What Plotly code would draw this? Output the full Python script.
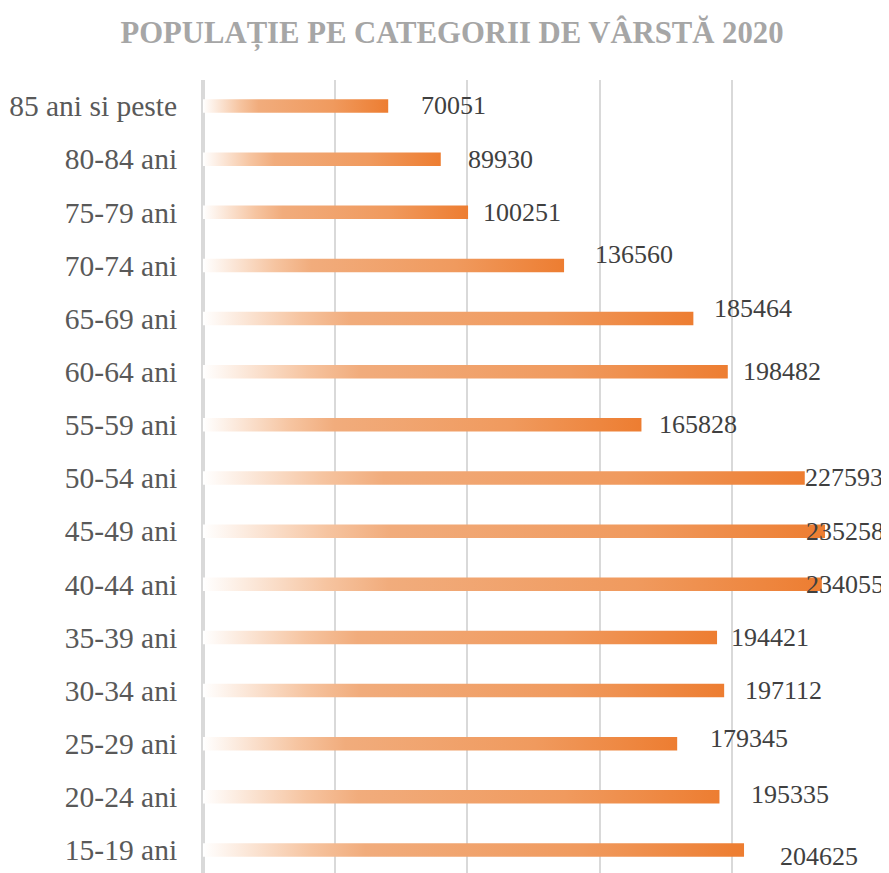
import plotly.graph_objects as go

categories = ["15-19 ani", "20-24 ani", "25-29 ani", "30-34 ani", "35-39 ani",
              "40-44 ani", "45-49 ani", "50-54 ani", "55-59 ani", "60-64 ani",
              "65-69 ani", "70-74 ani", "75-79 ani", "80-84 ani", "85 ani si peste"]
values = [204625, 195335, 179345, 197112, 194421,
          234055, 235258, 227593, 165828, 198482,
          185464, 136560, 100251, 89930, 70051]

# label offsets in pixels (dx from bar end to label centre, dy upward)
label_dx = [75, 71, 72, 59, 53, 23, 20, 39, 57, 54, 60, 70, 54, 60, 65]
label_dy = [-7, 2, 5, 0, 0, 0, 0, 0, 0, 0, 10, 11, 0, 0, 0]

TITLE = "POPULAȚIE PE CATEGORII DE VÂRSTĂ 2020"
FONT = "Liberation Serif, Times New Roman, serif"

W, H = 881, 865  # page adds an 8px body margin

half = 0.127
grad = [[0.0, "#FFFFFF"], [0.2, "#F6C4A0"], [0.3, "#F1AC7C"],
        [0.7, "#F09A5E"], [1.0, "#ED7D31"]]

fig = go.Figure()
for i, v in enumerate(values):
    fig.add_trace(go.Scatter(
        x=[0, v, v, 0, 0],
        y=[i - half, i - half, i + half, i + half, i - half],
        mode="lines", line=dict(width=0), fill="toself",
        fillgradient=dict(type="horizontal", colorscale=grad, start=0, stop=v),
        hoverinfo="skip", showlegend=False,
    ))

for i, v in enumerate(values):
    fig.add_annotation(x=v, y=i, text=str(v), showarrow=False,
                       xanchor="center", yanchor="middle",
                       xshift=label_dx[i], yshift=label_dy[i],
                       font=dict(family=FONT, size=26, color="#404040"))

fig.update_layout(
    width=W, height=H,
    margin=dict(l=195, r=25, t=72, b=0),
    paper_bgcolor="white", plot_bgcolor="white",
    title=dict(text=TITLE, x=444 / W, xanchor="center",
               y=1 - 24 / H, yanchor="middle", yref="container",
               font=dict(family=FONT, size=30.7, color="#A6A6A6", weight="bold")),
    xaxis=dict(range=[0, 250000], dtick=50000, showgrid=True,
               gridcolor="#D9D9D9", gridwidth=2, showticklabels=False,
               zeroline=True, zerolinecolor="#D9D9D9", zerolinewidth=4,
               fixedrange=True),
    yaxis=dict(range=[-0.433, 14.489], tickmode="array",
               tickvals=list(range(len(categories))), ticktext=categories,
               showgrid=False, zeroline=False, ticks="outside", ticklen=19,
               tickcolor="rgba(0,0,0,0)",
               tickfont=dict(family=FONT, size=29.5, color="#595959")),
)

fig.write_html("out.html")
